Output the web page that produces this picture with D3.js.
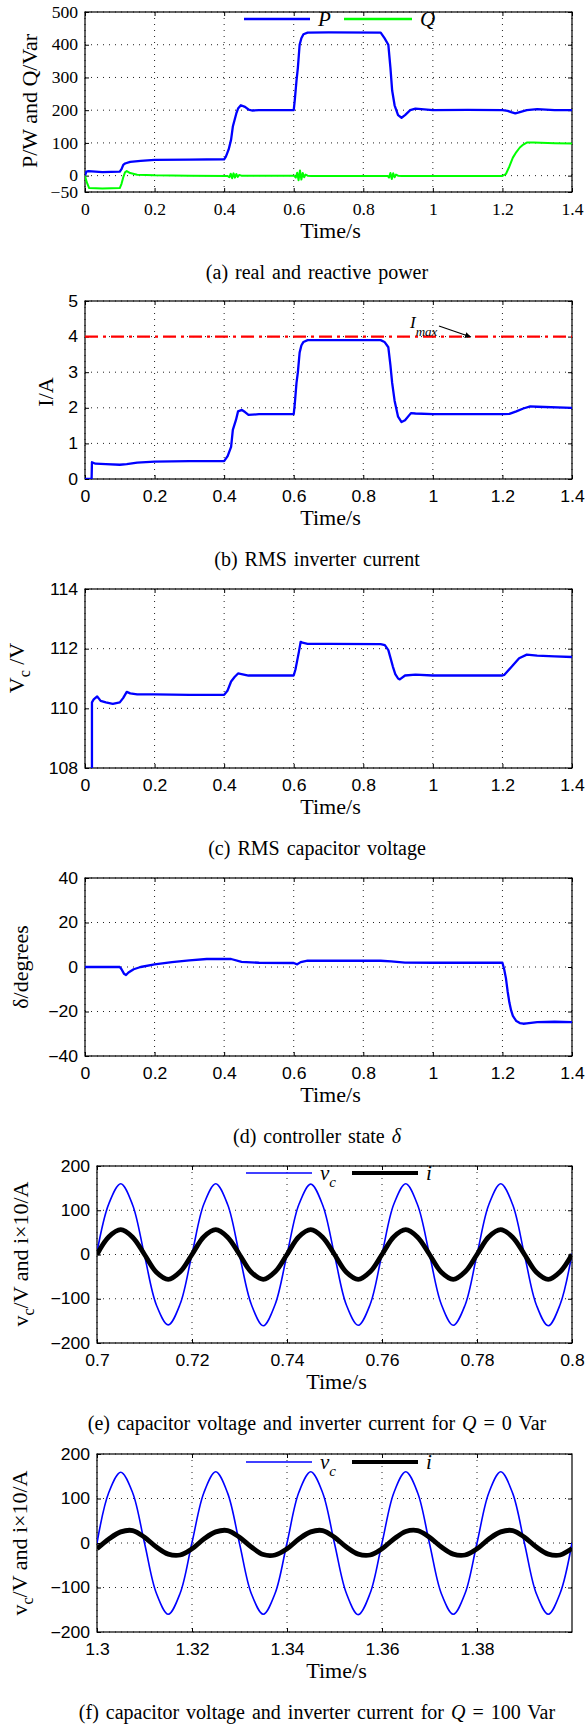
<!DOCTYPE html>
<html>
<head>
<meta charset="utf-8">
<script src="https://cdn.jsdelivr.net/npm/d3@7"></script>
<style>
  body { margin: 0; background: #fff; }
</style>
</head>
<body>
<div id="chart"></div>
<script>
// ---- data ----
// (a) real and reactive power
var timeP = [0, 0.004, 0.01, 0.05, 0.1, 0.105, 0.11, 0.115, 0.13, 0.16, 0.2, 0.3, 0.4, 0.405, 0.413,
  0.42, 0.425, 0.43, 0.435, 0.44, 0.448, 0.46, 0.47, 0.48, 0.5, 0.6, 0.603, 0.608, 0.612, 0.617,
  0.622, 0.628, 0.64, 0.7, 0.85, 0.861, 0.872, 0.878, 0.883, 0.89, 0.9, 0.91, 0.92, 0.935, 0.95,
  1.0, 1.1, 1.2, 1.215, 1.225, 1.237, 1.25, 1.27, 1.3, 1.35, 1.4];
var powerP = [0, 12, 14, 11, 12, 20, 33, 37, 42, 45, 48, 49, 50, 58, 80,
  110, 150, 170, 190, 205, 215, 210, 202, 199, 200, 200, 230, 290, 330, 400,
  420, 432, 437, 438, 437, 420, 400, 330, 260, 215, 185, 177, 185, 200, 205,
  200, 201, 200, 198, 194, 190, 194, 200, 203, 200, 200];
var timeQ = [0, 0.005, 0.012, 0.05, 0.1, 0.105, 0.11, 0.115, 0.12, 0.13, 0.15, 0.2, 0.3, 0.41, 0.415,
  0.419, 0.423, 0.427, 0.431, 0.435, 0.439, 0.443, 0.45, 0.6, 0.606, 0.61, 0.614, 0.618, 0.622, 0.626,
  0.63, 0.634, 0.64, 0.65, 0.87, 0.874, 0.878, 0.882, 0.886, 0.89, 0.894, 0.9, 0.91, 1.2, 1.21,
  1.22, 1.23, 1.24, 1.25, 1.26, 1.27, 1.29, 1.35, 1.4];
var powerQ = [0, -20, -38, -39, -38, -25, -5, 10, 14, 8, 3, 1, 0, -1, -5,
  6, -8, 7, -6, 5, -4, 2, 0, 0, -6, 9, -14, 16, -12, 8,
  -5, 3, 0, -1, -1, -6, 8, -10, 7, -5, 3, 0, -1, -1, 5,
  28, 55, 72, 86, 95, 101, 101, 99, 98];

// (b) RMS inverter current
var timeI = [0, 0.019, 0.02, 0.03, 0.06, 0.1, 0.12, 0.15, 0.2, 0.3, 0.4, 0.41, 0.42, 0.425, 0.434,
  0.44, 0.451, 0.46, 0.47, 0.5, 0.6, 0.603, 0.608, 0.612, 0.617, 0.622, 0.628, 0.64, 0.7, 0.85,
  0.861, 0.872, 0.878, 0.883, 0.89, 0.9, 0.91, 0.92, 0.937, 0.95, 1.0, 1.2, 1.22, 1.24, 1.26,
  1.28, 1.3, 1.4];
var currentI = [0, 0, 0.47, 0.43, 0.42, 0.4, 0.42, 0.46, 0.49, 0.5, 0.5, 0.64, 0.9, 1.38, 1.66,
  1.9, 1.94, 1.88, 1.8, 1.82, 1.82, 2.1, 2.7, 3.0, 3.55, 3.75, 3.85, 3.9, 3.9, 3.9,
  3.85, 3.7, 3.2, 2.7, 2.2, 1.75, 1.6, 1.65, 1.85, 1.84, 1.82, 1.82, 1.83, 1.9, 1.98,
  2.04, 2.03, 2.0];
var currentLimit = 4;

// (c) RMS capacitor voltage
var timeV = [0.02, 0.02, 0.025, 0.035, 0.045, 0.06, 0.08, 0.1, 0.11, 0.12, 0.13, 0.15, 0.2, 0.3, 0.4,
  0.41, 0.42, 0.43, 0.44, 0.45, 0.47, 0.5, 0.6, 0.605, 0.61, 0.615, 0.62, 0.625, 0.64, 0.7,
  0.85, 0.862, 0.872, 0.878, 0.885, 0.892, 0.9, 0.905, 0.92, 0.95, 1.0, 1.2, 1.205, 1.227, 1.248,
  1.27, 1.3, 1.35, 1.4];
var voltageV = [107, 110.2, 110.3, 110.4, 110.25, 110.2, 110.15, 110.2, 110.35, 110.55, 110.5, 110.47, 110.47, 110.45, 110.45,
  110.6, 110.9, 111.05, 111.17, 111.15, 111.1, 111.1, 111.1, 111.3, 111.6, 111.9, 112.23, 112.2, 112.16, 112.16,
  112.15, 112.12, 111.95, 111.7, 111.4, 111.15, 111.0, 110.97, 111.1, 111.13, 111.1, 111.1, 111.12, 111.4, 111.68,
  111.8, 111.77, 111.74, 111.72];

// (d) controller state delta
var timeD = [0, 0.1, 0.105, 0.112, 0.118, 0.125, 0.14, 0.16, 0.2, 0.25, 0.3, 0.35, 0.4, 0.42, 0.45,
  0.5, 0.6, 0.61, 0.62, 0.64, 0.7, 0.85, 0.88, 0.92, 1.0, 1.2, 1.205, 1.21, 1.215, 1.22,
  1.225, 1.23, 1.24, 1.25, 1.26, 1.27, 1.3, 1.35, 1.4];
var delta = [0, 0, -1, -3, -3.6, -2.5, -1, 0, 1.2, 2.2, 3, 3.6, 3.6, 3.6, 2.3,
  1.9, 1.8, 1.2, 2.2, 2.9, 2.8, 2.8, 2.5, 2, 1.9, 1.9, -1, -5, -11, -16,
  -19.5, -22, -24.3, -25.2, -25.5, -25.3, -24.8, -24.6, -24.8];

// (e) waveforms for Q = 0 Var
var timeE = [0.7, 0.7025, 0.705, 0.7075, 0.71, 0.7125, 0.715, 0.7175, 0.72, 0.7225, 0.725, 0.7275, 0.73, 0.7325,
  0.735, 0.7375, 0.74, 0.7425, 0.745, 0.7475, 0.75, 0.7525, 0.755, 0.7575, 0.76, 0.7625, 0.765, 0.7675,
  0.77, 0.7725, 0.775, 0.7775, 0.78, 0.7825, 0.785, 0.7875, 0.79, 0.7925, 0.795, 0.7975, 0.8];
var vcE = [5, 115, 160, 112, -2, -114, -159, -112, 1, 114, 160, 113, -1, -113,
  -161, -113, 0, 113, 159, 112, -1, -114, -160, -113, 1, 114, 160, 112,
  0, -113, -160, -114, 0, 113, 160, 113, -1, -114, -161, -113, 2];
var iE = [0, 40, 56, 39, 0, -40, -56, -39, 0, 40, 56, 39, 0, -40,
  -56, -39, 0, 40, 56, 39, 0, -40, -56, -39, 0, 40, 56, 39,
  0, -40, -56, -39, 0, 40, 56, 39, 0, -40, -56, -39, 0];

// (f) waveforms for Q = 100 Var
var timeF = [1.3, 1.3025, 1.305, 1.3075, 1.31, 1.3125, 1.315, 1.3175, 1.32, 1.3225, 1.325, 1.3275, 1.33, 1.3325,
  1.335, 1.3375, 1.34, 1.3425, 1.345, 1.3475, 1.35, 1.3525, 1.355, 1.3575, 1.36, 1.3625, 1.365, 1.3675,
  1.37, 1.3725, 1.375, 1.3775, 1.38, 1.3825, 1.385, 1.3875, 1.39, 1.3925, 1.395, 1.3975, 1.4];
var vcF = [0, 114, 159, 113, 0, -113, -160, -113, 1, 113, 160, 112, -1, -114,
  -160, -113, 0, 114, 160, 113, -1, -113, -161, -113, 0, 113, 160, 113,
  -1, -114, -160, -113, 0, 113, 160, 112, -1, -114, -160, -113, 0];
var iF = [-13, 9, 25, 28, 13, -9, -25, -27, -13, 9, 25, 28, 13, -9,
  -26, -27, -13, 9, 25, 28, 13, -9, -25, -27, -13, 9, 26, 28,
  13, -9, -25, -27, -13, 9, 25, 28, 13, -9, -25, -27, -12];

// tick values
var ticksTime = [0, 0.2, 0.4, 0.6, 0.8, 1, 1.2, 1.4];
var ticksP = [-50, 0, 100, 200, 300, 400, 500];
var ticksI = [0, 1, 2, 3, 4, 5];
var ticksV = [108, 110, 112, 114];
var ticksD = [-40, -20, 0, 20, 40];
var ticksWave = [-200, -100, 0, 100, 200];
var ticksTimeE = [0.7, 0.72, 0.74, 0.76, 0.78, 0.8];
var ticksTimeF = [1.3, 1.32, 1.34, 1.36, 1.38];

// ---- drawing ----
var SERIF = '"Liberation Serif", "Times New Roman", Times, serif';
var SANS = '"Liberation Sans", Arial, Helvetica, sans-serif';
var BLUE = "#0000ff", GREEN = "#00ff00";
var STRETCH = 1.1; // the source figure's text is a little wide

var svg = d3.select("#chart").append("svg")
  .attr("width", 585)
  .attr("height", 1727)
  .style("background", "#fff");

function fmtNum(d) {
  var s = String(+d.toFixed(2));
  return d < 0 ? "\u2212" + s.slice(1) : s;
}

function drawPanel(o) {
  var x = d3.scaleLinear().domain(o.xDomain).range([o.left, o.right]);
  var y = d3.scaleLinear().domain(o.yDomain).range([o.bottom, o.top]);
  var g = svg.append("g");
  var font = o.tickFont || SANS;

  // dotted grid
  var grid = g.append("g");
  grid.selectAll(".gx").data(o.xTicks).enter().append("line")
    .attr("x1", function (d) { return x(d); })
    .attr("x2", function (d) { return x(d); })
    .attr("y1", o.top).attr("y2", o.bottom);
  grid.selectAll(".gy").data(o.yTicks).enter().append("line")
    .attr("x1", o.left).attr("x2", o.right)
    .attr("y1", function (d) { return y(d); })
    .attr("y2", function (d) { return y(d); });
  grid.selectAll("line")
    .attr("stroke", "#222")
    .attr("stroke-width", 1)
    .attr("stroke-dasharray", "1,5");

  // axes, ticks inward on all four sides
  var bottom = g.append("g").attr("transform", "translate(0," + o.bottom + ")")
    .call(d3.axisBottom(x).tickValues(o.xTicks).tickFormat(fmtNum)
      .tickSizeInner(-4).tickSizeOuter(0).tickPadding(12));
  var left = g.append("g").attr("transform", "translate(" + o.left + ",0)")
    .call(d3.axisLeft(y).tickValues(o.yTicks).tickFormat(fmtNum)
      .tickSizeInner(-4).tickSizeOuter(0).tickPadding(7));
  g.append("g").attr("transform", "translate(0," + o.top + ")")
    .call(d3.axisTop(x).tickValues(o.xTicks).tickFormat("").tickSizeInner(-4).tickSizeOuter(0));
  g.append("g").attr("transform", "translate(" + o.right + ",0)")
    .call(d3.axisRight(y).tickValues(o.yTicks).tickFormat("").tickSizeInner(-4).tickSizeOuter(0));
  g.selectAll(".domain").remove();
  g.selectAll(".tick line").attr("stroke", "#000");
  g.selectAll(".tick text")
    .attr("font-family", font)
    .attr("font-size", 16)
    .attr("fill", "#000")
    .attr("transform", "scale(" + STRETCH + ",1)");
  left.selectAll(".tick text").attr("x", -7 / STRETCH);

  // frame
  g.append("rect")
    .attr("x", o.left).attr("y", o.top)
    .attr("width", o.right - o.left).attr("height", o.bottom - o.top)
    .attr("fill", "none").attr("stroke", "#000").attr("stroke-width", 1.2);

  var clipId = "clip" + o.id;
  svg.append("clipPath").attr("id", clipId).append("rect")
    .attr("x", o.left).attr("y", o.top)
    .attr("width", o.right - o.left).attr("height", o.bottom - o.top);
  var plot = g.append("g").attr("clip-path", "url(#" + clipId + ")");

  // x label
  g.append("text")
    .attr("transform", "translate(" + ((o.left + o.right) / 2 + 2) + "," + (o.bottom + 46) + ") scale(1.05,1)")
    .attr("text-anchor", "middle")
    .attr("font-family", SERIF)
    .attr("font-size", 21)
    .text("Time/s");

  // y label, rotated
  var yl = g.append("text")
    .attr("transform", "translate(" + o.yLabelX + "," + o.yLabelY + ") rotate(-90)")
    .attr("text-anchor", "middle")
    .attr("font-family", SERIF)
    .attr("font-size", 22);
  o.yLabel.forEach(function (p) {
    var t = yl.append("tspan").text(p.t);
    if (p.sub) t.attr("font-size", 16).attr("dy", 6);
    if (p.up) t.attr("dy", -6);
  });

  // caption
  var cap = svg.append("text")
    .attr("x", 317)
    .attr("y", o.bottom + 87)
    .attr("text-anchor", "middle")
    .attr("font-family", SERIF)
    .attr("font-size", 20)
    .attr("word-spacing", 2);
  o.caption.forEach(function (p) {
    var t = cap.append("tspan").text(p.t);
    if (p.it) t.attr("font-style", "italic");
  });

  return { g: g, plot: plot, x: x, y: y };
}

function addLine(pnl, times, values, color, width, curve) {
  var line = d3.line()
    .x(function (d) { return pnl.x(d[0]); })
    .y(function (d) { return pnl.y(d[1]); });
  if (curve) line.curve(curve);
  pnl.plot.append("path")
    .datum(d3.zip(times, values))
    .attr("fill", "none")
    .attr("stroke", color)
    .attr("stroke-width", width)
    .attr("stroke-linejoin", "round")
    .attr("d", line);
}

function legendEntry(g, x1, x2, y, color, width, label, sub) {
  g.append("line")
    .attr("x1", x1).attr("x2", x2).attr("y1", y).attr("y2", y)
    .attr("stroke", color).attr("stroke-width", width);
  var t = g.append("text")
    .attr("x", x2 + 8).attr("y", y + 7)
    .attr("font-family", SERIF).attr("font-style", "italic")
    .attr("font-size", 21)
    .text(label);
  if (sub) t.append("tspan").attr("font-size", 15).attr("dy", 7).text(sub);
}

// (a)
var pa = drawPanel({
  id: "a", left: 85, right: 572, top: 12, bottom: 192,
  xDomain: [0, 1.4], yDomain: [-50, 500], xTicks: ticksTime, yTicks: ticksP,
  tickFont: SERIF,
  yLabelX: 37, yLabelY: 101, yLabel: [{ t: "P/W and Q/Var" }],
  caption: [{ t: "(a) real and reactive power" }]
});
addLine(pa, timeP, powerP, BLUE, 2.3);
addLine(pa, timeQ, powerQ, GREEN, 2);
legendEntry(pa.g, 244, 310, 19, BLUE, 2.3, "P");
legendEntry(pa.g, 344, 412, 19, GREEN, 2.3, "Q");

// (b)
var pb = drawPanel({
  id: "b", left: 85, right: 572, top: 301, bottom: 479,
  xDomain: [0, 1.4], yDomain: [0, 5], xTicks: ticksTime, yTicks: ticksI,
  yLabelX: 53, yLabelY: 392, yLabel: [{ t: "I/A" }],
  caption: [{ t: "(b) RMS inverter current" }]
});
pb.plot.append("line")
  .attr("x1", pb.x(0)).attr("x2", pb.x(1.4))
  .attr("y1", pb.y(currentLimit)).attr("y2", pb.y(currentLimit))
  .attr("stroke", "#ff0000").attr("stroke-width", 2.4)
  .attr("stroke-dasharray", "13,5,3,5");
addLine(pb, timeI, currentI, BLUE, 2.3);
svg.append("defs").append("marker")
  .attr("id", "arrow").attr("viewBox", "0 0 10 10")
  .attr("refX", 10).attr("refY", 5)
  .attr("markerWidth", 5).attr("markerHeight", 5)
  .attr("orient", "auto")
  .append("path").attr("d", "M0,0 L10,5 L0,10 z").attr("fill", "#000");
pb.g.append("line")
  .attr("x1", 439).attr("y1", 326).attr("x2", 471).attr("y2", 337)
  .attr("stroke", "#000").attr("stroke-width", 1.2)
  .attr("marker-end", "url(#arrow)");
var imax = pb.g.append("text")
  .attr("x", 410).attr("y", 328)
  .attr("font-family", SERIF).attr("font-style", "italic")
  .attr("font-size", 17).text("I");
imax.append("tspan").attr("font-size", 13).attr("dy", 8).text("max");

// (c)
var pc = drawPanel({
  id: "c", left: 85, right: 572, top: 589, bottom: 768,
  xDomain: [0, 1.4], yDomain: [108, 114], xTicks: ticksTime, yTicks: ticksV,
  yLabelX: 24, yLabelY: 668,
  yLabel: [{ t: "V" }, { t: "c", sub: true }, { t: " /V", up: true }],
  caption: [{ t: "(c) RMS capacitor voltage" }]
});
addLine(pc, timeV, voltageV, BLUE, 2.3);

// (d)
var pd = drawPanel({
  id: "d", left: 85, right: 572, top: 878, bottom: 1056,
  xDomain: [0, 1.4], yDomain: [-40, 40], xTicks: ticksTime, yTicks: ticksD,
  yLabelX: 28, yLabelY: 967, yLabel: [{ t: "\u03b4/degrees" }],
  caption: [{ t: "(d) controller state " }, { t: "\u03b4", it: true }]
});
addLine(pd, timeD, delta, BLUE, 2.3);

// (e)
var pe = drawPanel({
  id: "e", left: 97, right: 572, top: 1166, bottom: 1343,
  xDomain: [0.7, 0.8], yDomain: [-200, 200], xTicks: ticksTimeE, yTicks: ticksWave,
  yLabelX: 28, yLabelY: 1254,
  yLabel: [{ t: "v" }, { t: "c", sub: true }, { t: "/V and i\u00d710/A", up: true }],
  caption: [{ t: "(e) capacitor voltage and inverter current for " }, { t: "Q", it: true }, { t: " = 0 Var" }]
});
addLine(pe, timeE, vcE, BLUE, 1.6, d3.curveCatmullRom.alpha(0.5));
addLine(pe, timeE, iE, "#000", 4.8, d3.curveCatmullRom.alpha(0.5));
legendEntry(pe.g, 246, 312, 1173, BLUE, 1.6, "v", "c");
legendEntry(pe.g, 352, 418, 1173, "#000", 4, "i");

// (f)
var pf = drawPanel({
  id: "f", left: 97, right: 572, top: 1454, bottom: 1632,
  xDomain: [1.3, 1.4], yDomain: [-200, 200], xTicks: ticksTimeF, yTicks: ticksWave,
  yLabelX: 27, yLabelY: 1543,
  yLabel: [{ t: "v" }, { t: "c", sub: true }, { t: "/V and i\u00d710/A", up: true }],
  caption: [{ t: "(f) capacitor voltage and inverter current for " }, { t: "Q", it: true }, { t: " = 100 Var" }]
});
addLine(pf, timeF, vcF, BLUE, 1.6, d3.curveCatmullRom.alpha(0.5));
addLine(pf, timeF, iF, "#000", 4.8, d3.curveCatmullRom.alpha(0.5));
legendEntry(pf.g, 246, 312, 1462, BLUE, 1.6, "v", "c");
legendEntry(pf.g, 352, 418, 1462, "#000", 4, "i");
</script>
</body>
</html>
